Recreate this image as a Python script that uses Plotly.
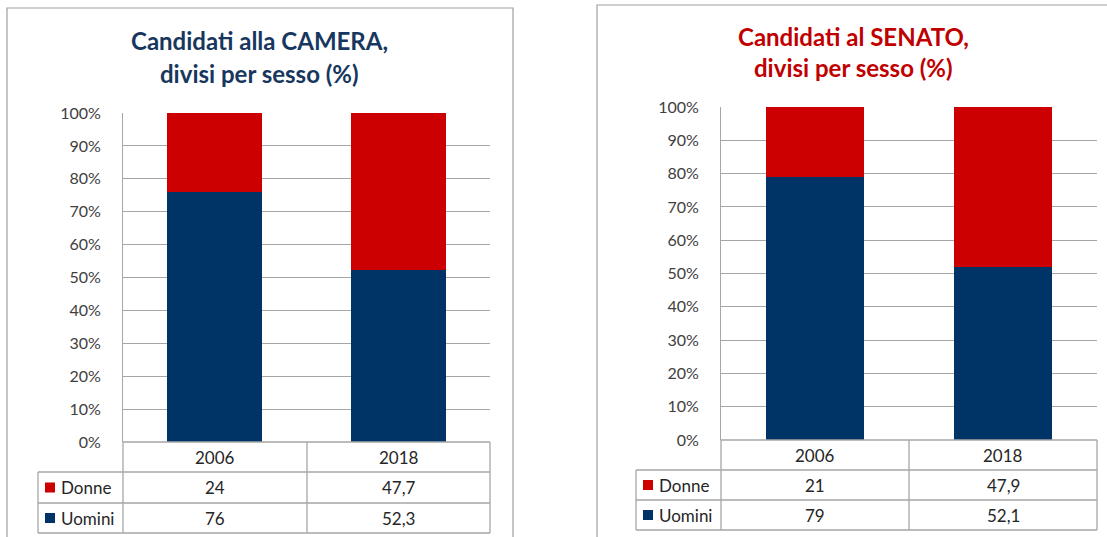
import plotly.graph_objects as go

# ---- data ----
categories = ["2006", "2018"]
series_names = ["Donne", "Uomini"]
camera_donne = [24, 47.7]
camera_uomini = [76, 52.3]
senato_donne = [21, 47.9]
senato_uomini = [79, 52.1]
y_ticks = list(range(0, 101, 10))
y_tick_labels = [f"{v}%" for v in y_ticks]
title_camera = ["Candidati alla CAMERA,", "divisi per sesso (%)"]
title_senato = ["Candidati al SENATO,", "divisi per sesso (%)"]

# ---- styling ----
W, H = 1107, 537
RED = "#CC0000"
NAVY = "#003366"
GRID = "#A6A6A6"
BORDER = "#A0A0A0"
FONT = "Lato, 'Open Sans', sans-serif"
TXT = "#262626"


def X(px):
    return px / W


def Y(py):
    return 1 - py / H


def fmt(v):
    s = str(v)
    if s.endswith(".0"):
        s = s[:-2]
    return s.replace(".", ",")


fig = go.Figure()

panels = [
    dict(xa="x", ya="y", donne=camera_donne, uomini=camera_uomini,
         title=title_camera, tcolor="#17375E",
         px=(123, 490), py=(113, 442), cols=(38, 123, 307, 490),
         rows=(442, 472, 503, 533), box=(7, 8, 513, 560),
         ty=(41, 73), tx=259),
    dict(xa="x2", ya="y2", donne=senato_donne, uomini=senato_uomini,
         title=title_senato, tcolor="#C00000",
         px=(721, 1097), py=(107, 440), cols=(636, 721, 909, 1097),
         rows=(440, 470, 500, 530), box=(597, 5, 1130, 560),
         ty=(36, 68), tx=853),
]

shapes = []
annotations = []

for i, p in enumerate(panels):
    fig.add_trace(go.Bar(x=categories, y=p["uomini"], name=series_names[1],
                         marker=dict(color=NAVY, line=dict(width=0)),
                         xaxis=p["xa"], yaxis=p["ya"], showlegend=False))
    fig.add_trace(go.Bar(x=categories, y=p["donne"], name=series_names[0],
                         marker=dict(color=RED, line=dict(width=0)),
                         xaxis=p["xa"], yaxis=p["ya"], showlegend=False))
    sfx = "" if i == 0 else "2"
    fig.update_layout(**{
        "xaxis" + sfx: dict(domain=[X(p["px"][0]), X(p["px"][1])],
                            anchor="y" + sfx, type="category",
                            categoryorder="array", categoryarray=categories,
                            showticklabels=False,
                            showgrid=False, zeroline=False, showline=False,
                            range=[-0.5, 1.5], fixedrange=True,
                            automargin=False),
        "yaxis" + sfx: dict(domain=[Y(p["py"][1]), Y(p["py"][0])],
                            anchor="x" + sfx, range=[0, 100],
                            tickmode="array", tickvals=y_ticks,
                            ticktext=y_tick_labels,
                            showgrid=True, gridcolor=GRID, gridwidth=1,
                            zeroline=False, showline=True, linecolor=GRID,
                            linewidth=1, ticklabelstandoff=18,
                            tickfont=dict(family=FONT, size=16, color="#404040"),
                            fixedrange=True, automargin=False),
    })

    # outer chart border
    bx0, by0, bx1, by1 = p["box"]
    shapes.append(dict(type="rect", xref="paper", yref="paper",
                       x0=X(bx0), x1=X(bx1), y0=Y(by1), y1=Y(by0),
                       line=dict(color=BORDER, width=1.2), layer="below"))

    # titles
    for j, line in enumerate(p["title"]):
        annotations.append(dict(text="<b>" + line + "</b>", xref="paper", yref="paper",
                                x=X(p["tx"]), y=Y(p["ty"][j]), xanchor="center",
                                yanchor="middle", showarrow=False,
                                font=dict(family=FONT, size=24, color=p["tcolor"])))

    # data table
    c0, c1, c2, c3 = p["cols"]
    r0, r1, r2, r3 = p["rows"]
    lines = [
        (c1, r0, c3, r0), (c0, r1, c3, r1), (c0, r2, c3, r2), (c0, r3, c3, r3),
        (c1, r0, c1, r3), (c2, r0, c2, r3), (c3, r0, c3, r3), (c0, r1, c0, r3),
    ]
    for (xa0, ya0, xa1, ya1) in lines:
        shapes.append(dict(type="line", xref="paper", yref="paper",
                           x0=X(xa0), x1=X(xa1), y0=Y(ya0), y1=Y(ya1),
                           line=dict(color=GRID, width=1.3)))
    col_centers = [(c1 + c2) / 2, (c2 + c3) / 2]
    row_centers = [(r0 + r1) / 2, (r1 + r2) / 2, (r2 + r3) / 2]
    for k, cat in enumerate(categories):
        annotations.append(dict(text=cat, xref="paper", yref="paper",
                                x=X(col_centers[k]), y=Y(row_centers[0]),
                                showarrow=False, xanchor="center", yanchor="middle",
                                font=dict(family=FONT, size=17, color=TXT)))
        annotations.append(dict(text=fmt(p["donne"][k]), xref="paper", yref="paper",
                                x=X(col_centers[k]), y=Y(row_centers[1]),
                                showarrow=False, xanchor="center", yanchor="middle",
                                font=dict(family=FONT, size=17, color=TXT)))
        annotations.append(dict(text=fmt(p["uomini"][k]), xref="paper", yref="paper",
                                x=X(col_centers[k]), y=Y(row_centers[2]),
                                showarrow=False, xanchor="center", yanchor="middle",
                                font=dict(family=FONT, size=17, color=TXT)))
    # legend keys
    for name, color, rc in [(series_names[0], RED, row_centers[1]),
                            (series_names[1], NAVY, row_centers[2])]:
        shapes.append(dict(type="rect", xref="paper", yref="paper",
                           x0=X(c0 + 7), x1=X(c0 + 17), y0=Y(rc + 5), y1=Y(rc - 5),
                           fillcolor=color, line=dict(width=0)))
        annotations.append(dict(text=name, xref="paper", yref="paper",
                                x=X(c0 + 21), y=Y(rc), xanchor="left", yanchor="middle",
                                showarrow=False,
                                font=dict(family=FONT, size=17, color=TXT)))

fig.update_layout(
    template="none",
    width=W, height=H, margin=dict(l=0, r=0, t=0, b=0, pad=0, autoexpand=False),
    paper_bgcolor="white", plot_bgcolor="white",
    barmode="stack", bargap=0.48, showlegend=False,
    shapes=shapes, annotations=annotations,
)

post = (
    "document.documentElement.style.margin='0';"
    "document.documentElement.style.overflow='hidden';"
    "document.body.style.margin='0';"
    "document.body.style.overflow='hidden';"
    "var gd=document.getElementById('{plot_id}');"
    "gd.style.position='fixed';gd.style.top='0px';gd.style.left='0px';"
)

fig.write_html("out.html", config={"displayModeBar": False}, post_script=post)
